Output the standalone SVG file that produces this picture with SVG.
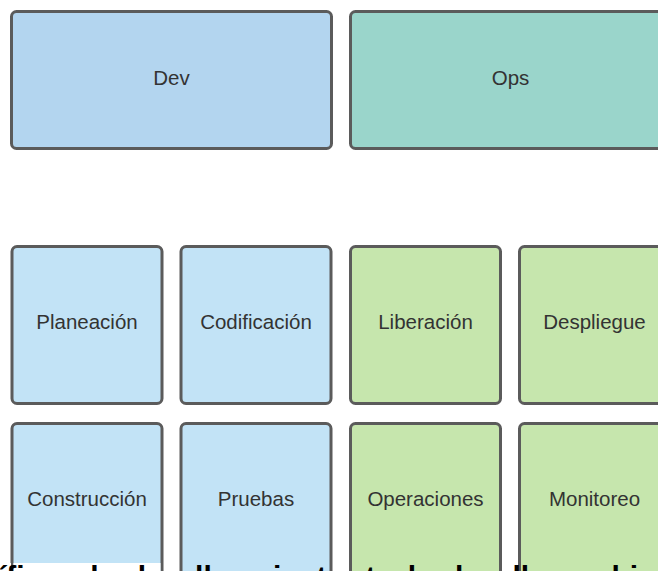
<svg xmlns="http://www.w3.org/2000/svg" width="658" height="571" viewBox="0 0 658 571">
<style>
.box{stroke:#5b5b5b;stroke-width:3}
.dev{fill:#b3d5ef}
.ops{fill:#9ad5cb}
.blue{fill:#c2e3f6}
.green{fill:#c6e6ad}
.lbl{font-family:"Liberation Sans",Arial,sans-serif;font-size:20.5px;fill:#333;text-anchor:middle}
.cap{font-family:"Liberation Sans",Arial,sans-serif;font-size:30px;font-weight:bold;fill:#000;word-spacing:14px}
</style>
<rect width="658" height="571" fill="#fff"/>
<g id="dev"><rect class="box dev" x="11.5" y="11.5" width="320" height="137" rx="5"/><text class="lbl" x="171.5" y="85">Dev</text></g>
<g id="ops"><rect class="box ops" x="350.5" y="11.5" width="320" height="137" rx="5"/><text class="lbl" x="510.5" y="85">Ops</text></g>
<g id="planeacion"><rect class="box blue" x="12" y="246.5" width="150" height="157" rx="5"/><text class="lbl" x="87" y="329">Planeación</text></g>
<g id="codificacion"><rect class="box blue" x="181" y="246.5" width="150" height="157" rx="5"/><text class="lbl" x="256" y="329">Codificación</text></g>
<g id="liberacion"><rect class="box green" x="350.5" y="246.5" width="150" height="157" rx="5"/><text class="lbl" x="425.5" y="329">Liberación</text></g>
<g id="despliegue"><rect class="box green" x="519.5" y="246.5" width="150" height="157" rx="5"/><text class="lbl" x="594.5" y="329">Despliegue</text></g>
<g id="construccion"><rect class="box blue" x="12" y="423.5" width="150" height="170" rx="5"/><text class="lbl" x="87" y="506">Construcción</text></g>
<g id="pruebas"><rect class="box blue" x="181" y="423.5" width="150" height="170" rx="5"/><text class="lbl" x="256" y="506">Pruebas</text></g>
<g id="operaciones"><rect class="box green" x="350.5" y="423.5" width="150" height="170" rx="5"/><text class="lbl" x="425.5" y="506">Operaciones</text></g>
<g id="monitoreo"><rect class="box green" x="519.5" y="423.5" width="150" height="170" rx="5"/><text class="lbl" x="594.5" y="506">Monitoreo</text></g>
<g id="connectors"></g>
<rect x="0" y="563" width="11" height="8" fill="#fff"/>
<rect x="13.5" y="563" width="147" height="8" fill="#fff"/>
<text class="cap" x="-2" y="587">ífica de la dl   a  iente  t   de la dl  cambio</text>
</svg>
